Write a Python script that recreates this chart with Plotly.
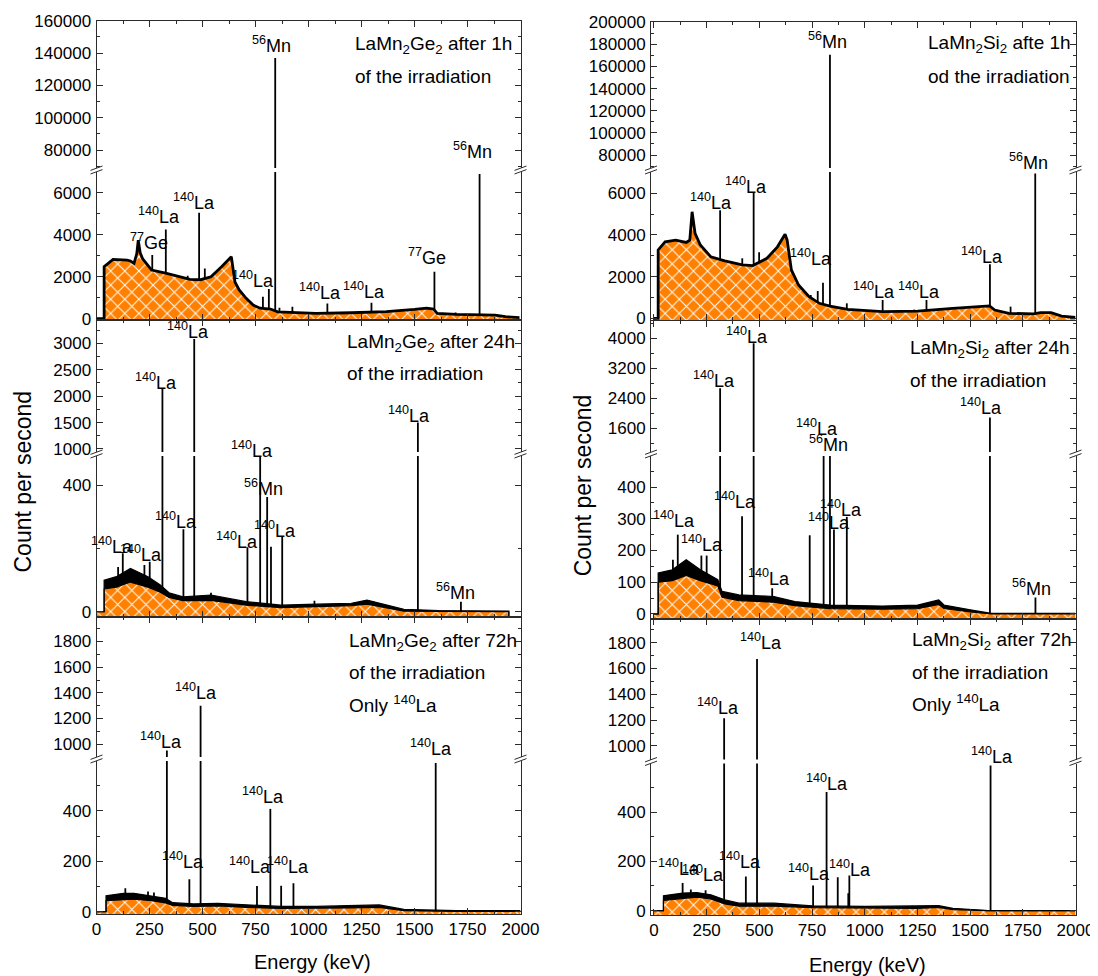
import plotly.graph_objects as go

# the page places the figure 8 px from the top-left corner of the window
OFF = 8
W, H = 1098 - OFF, 976 - OFF
FONT = "Liberation Sans, Arial, Helvetica, sans-serif"
ORANGE = "#ff8000"
AXC = "#2b2b2b"
FLOOR = -1.0e4

# ---------------- spectra (energy keV, counts per second) ----------------
# LaMn2Ge2, 1 h
GE1_E = [0, 36, 36, 78, 144, 160, 177, 190, 197, 206, 218, 260, 326, 375, 441, 491, 540, 590, 623, 636,
         653, 673, 706, 739, 772, 821, 855, 921, 1036, 1202, 1367, 1500, 1557, 1590, 1607, 1698, 1797, 1880, 1929, 1995]
GE1_CPS = [0, 0, 2480, 2830, 2800, 2750, 2640, 3100, 3750, 3150, 2850, 2320, 2170, 2040, 1880, 1860, 2000, 2480, 2800, 2960,
           1750, 1370, 970, 650, 500, 460, 330, 290, 255, 285, 335, 440, 500, 460, 255, 210, 175, 175, 95, 50]
GE1_PK_E = [263, 327, 430, 484, 511, 785, 813, 843, 863, 924, 1089, 1235, 1297, 1594, 1694, 1807]
GE1_PK_H = [3040, 4260, 2050, 5060, 2400, 1050, 1420, 137000, 520, 570, 730, 330, 760, 2240, 300, 6900]

# LaMn2Si2, 1 h
SI1_E = [0, 20, 20, 53, 103, 153, 170, 181, 195, 220, 270, 336, 419, 469, 536, 586, 622, 632, 652, 686,
         736, 785, 835, 919, 1085, 1251, 1418, 1551, 1592, 1617, 1684, 1800, 1834, 1884, 1934, 2000]
SI1_CPS = [0, 0, 3280, 3670, 3750, 3640, 3750, 5110, 4080, 3520, 2950, 2760, 2560, 2530, 2880, 3430, 4030, 3750, 2320, 1600,
           1040, 720, 590, 430, 320, 350, 480, 590, 600, 400, 240, 210, 270, 270, 110, 50]
SI1_PK_E = [314, 419, 473, 499, 744, 777, 802, 835, 915, 1085, 1235, 1293, 1594, 1692, 1809]
SI1_PK_H = [5190, 2880, 6020, 3170, 1120, 1310, 1710, 170500, 720, 880, 420, 880, 2590, 560, 6950]

# LaMn2Ge2, 24 h (upper / lower edge of the noisy band)
GE24_E = [0, 36, 36, 94, 160, 243, 301, 342, 408, 540, 706, 871, 1036, 1202, 1276, 1367, 1450, 1615, 1945, 1945]
GE24_HI = [0, 0, 100, 111, 137, 111, 85, 60, 47, 53, 32, 21, 24, 27, 37, 21, 8, 4, 2, -30]
GE24_LO = [0, 0, 72, 78, 94, 78, 62, 45, 35, 36, 21, 13, 16, 19, 24, 13, 2, 1, 0, -30]
GE24_PK_E = [102, 124, 226, 251, 311, 410, 461, 540, 712, 772, 805, 823, 876, 1028, 1516, 1719]
GE24_PK_H = [142, 185, 148, 158, 2150, 261, 3080, 60, 204, 495, 363, 206, 237, 35, 1500, 32]

# LaMn2Si2, 24 h
SI24_E = [0, 20, 20, 87, 153, 220, 303, 323, 403, 569, 669, 835, 1085, 1251, 1351, 1376, 1501, 1601, 2000]
SI24_HI = [0, 0, 129, 139, 171, 139, 108, 71, 60, 55, 39, 28, 25, 28, 44, 28, 13, 2, 2]
SI24_LO = [0, 0, 100, 105, 121, 105, 88, 53, 42, 37, 26, 17, 15, 17, 30, 17, 6, 0, 0]
SI24_PK_E = [90, 113, 225, 250, 314, 418, 473, 561, 739, 805, 835, 854, 915, 1594, 1810]
SI24_PK_H = [171, 250, 184, 184, 2670, 308, 3870, 81, 248, 600, 600, 266, 306, 1890, 52]

# LaMn2Ge2, 72 h
GE72_E = [0, 45, 45, 127, 177, 260, 326, 359, 458, 574, 706, 871, 1036, 1202, 1334, 1450, 1698, 2000]
GE72_HI = [0, 0, 63, 73, 73, 63, 53, 36, 31, 33, 27, 21, 21, 24, 27, 9, 4, 4]
GE72_LO = [0, 0, 44, 46, 50, 44, 35, 25, 21, 23, 17, 13, 13, 15, 17, 4, 1, 1]
GE72_PK_E = [136, 243, 271, 332, 438, 491, 757, 820, 871, 929, 1600]
GE72_PK_H = [93, 80, 76, 950, 129, 1300, 102, 408, 103, 113, 590]

# LaMn2Si2, 72 h
SI72_E = [0, 45, 45, 136, 203, 270, 336, 403, 569, 752, 1002, 1251, 1351, 1418, 1584, 2000]
SI72_HI = [0, 0, 60, 71, 73, 64, 44, 30, 30, 19, 17, 17, 20, 9, 0, 0]
SI72_LO = [0, 0, 41, 48, 55, 47, 27, 18, 18, 12, 9, 9, 13, 4, 0, 0]
SI72_PK_E = [136, 175, 245, 333, 436, 489, 755, 819, 872, 922, 927, 1597]
SI72_PK_H = [112, 86, 83, 1214, 139, 1674, 102, 482, 135, 70, 143, 590]

LA = "<sup>140</sup>La"
MN = "<sup>56</sup>Mn"
GE = "<sup>77</sup>Ge"

X_TITLE = "Energy (keV)"
Y_TITLE = "Count per second"

# ---------------- layout configuration (window pixels) ----------------
COLS = [dict(dom=(96.5, 520.5), rng=[0, 2000]),
        dict(dom=(651, 1075.5), rng=[-14, 2000])]

PANELS = [
    dict(col=0, E=GE1_E, hi=GE1_CPS, lo=None, pe=GE1_PK_E, ph=GE1_PK_H,
         up_px=(20.7, 168), lo_px=(172, 319.5), up_rng=[68900, 160000], lo_rng=[-38, 7000],
         up_tick=(20000, 10000), lo_tick=(2000, 1000), xlabels=False,
         title=[("LaMn<sub>2</sub>Ge<sub>2</sub> after 1h", 1210, 44.3), ("of the irradiation", 1210, 76)],
         labels=[(MN, 827, 46), (MN, 1775, 151.7), (LA, 293, 216.7), (LA, 460, 202.3), (GE, 246, 242.7),
                 (LA, 739, 280), (LA, 1053, 292.7), (LA, 1260, 291), (GE, 1559, 257.7)]),
    dict(col=1, E=SI1_E, hi=SI1_CPS, lo=None, pe=SI1_PK_E, ph=SI1_PK_H,
         up_px=(21.7, 168), lo_px=(172, 320), up_rng=[68300, 200400], lo_rng=[-80, 7020],
         up_tick=(20000, 10000), lo_tick=(2000, 1000), xlabels=False,
         title=[("LaMn<sub>2</sub>Si<sub>2</sub> afte 1h", 1290, 43.3), ("od the irradiation", 1290, 76)],
         labels=[(MN, 822, 41.7), (MN, 1777, 162.7), (LA, 271, 202.3), (LA, 438, 186), (LA, 744, 258.3),
                 (LA, 1042, 291), (LA, 1256, 291), (LA, 1557, 256.7)]),
    dict(col=0, E=GE24_E, hi=GE24_HI, lo=GE24_LO, pe=GE24_PK_E, ph=GE24_PK_H,
         up_px=(319.5, 452), lo_px=(456, 616.5), up_rng=[943, 3450], lo_rng=[-15, 493],
         up_tick=(500, 250), lo_tick=(400, 200), xlabels=False,
         title=[("LaMn<sub>2</sub>Ge<sub>2</sub> after 24h", 1174, 341.7), ("of the irradiation", 1174, 372.7)],
         labels=[(LA, 433, 331.7), (LA, 281, 382.7), (LA, 1476, 416), (LA, 732, 450), (MN, 788, 488.3),
                 (LA, 375, 521.7), (LA, 840, 530.7), (LA, 661, 541), (LA, 74, 546.7), (LA, 210, 554.3),
                 (MN, 1694, 592.7)]),
    dict(col=1, E=SI24_E, hi=SI24_HI, lo=SI24_LO, pe=SI24_PK_E, ph=SI24_PK_H,
         up_px=(320.5, 452), lo_px=(456, 619), up_rng=[968, 4475], lo_rng=[-16, 498],
         up_tick=(800, 400), lo_tick=(100, 50), xlabels=False,
         title=[("LaMn<sub>2</sub>Si<sub>2</sub> after 24h", 1205, 347.7), ("of the irradiation", 1205, 379.3)],
         labels=[(LA, 441, 336), (LA, 283, 381), (LA, 1553, 407.3), (LA, 774, 428.3), (MN, 827, 445),
                 (LA, 384, 501), (LA, 95, 520), (LA, 889, 509.3), (LA, 830, 522), (LA, 226, 544.3),
                 (LA, 547, 578.3), (MN, 1792, 588.3)]),
    dict(col=0, E=GE72_E, hi=GE72_HI, lo=GE72_LO, pe=GE72_PK_E, ph=GE72_PK_H,
         up_px=(616.5, 757), lo_px=(761, 914), up_rng=[900, 1995], lo_rng=[-9, 598],
         up_tick=(200, 100), lo_tick=(200, 100), xlabels=True,
         title=[("LaMn<sub>2</sub>Ge<sub>2</sub> after 72h", 1180, 640.7), ("of the irradiation", 1180, 671.7),
                ("Only " + LA, 1180, 703.3)],
         labels=[(LA, 471, 692.7), (LA, 302, 741), (LA, 1580, 748.3), (LA, 785, 796), (LA, 410, 861),
                 (LA, 726, 866.7), (LA, 904, 866.7)]),
    dict(col=1, E=SI72_E, hi=SI72_HI, lo=SI72_LO, pe=SI72_PK_E, ph=SI72_PK_H,
         up_px=(619, 759.5), lo_px=(763.5, 915), up_rng=[895, 1984], lo_rng=[-18, 598],
         up_tick=(200, 100), lo_tick=(200, 100), xlabels=True,
         title=[("LaMn<sub>2</sub>Si<sub>2</sub> after 72h", 1215, 640), ("of the irradiation", 1215, 671.7),
                ("Only " + LA, 1215, 701.7)],
         labels=[(LA, 508, 642.7), (LA, 306, 707.3), (LA, 1604, 756), (LA, 822, 783.3), (LA, 406, 861.7),
                 (LA, 118, 868.3), (LA, 231, 874), (LA, 734, 873.3), (LA, 929, 869.3)]),
]


def px2x(px):
    return (px - OFF) / W


def py2y(py):
    return 1 - (py - OFF) / H


def ax_name(kind, i):
    return f"{kind}axis" if i == 1 else f"{kind}axis{i}"


def ref(kind, i):
    return kind if i == 1 else f"{kind}{i}"


PATTERN = dict(shape="x", size=10, solidity=0.18, fgcolor="white", bgcolor=ORANGE, fillmode="replace")

fig = go.Figure()
layout = dict(width=W, height=H, autosize=False,
              margin=dict(l=0, r=0, t=0, b=0, pad=0, autoexpand=False), paper_bgcolor="white",
              plot_bgcolor="white", showlegend=False, font=dict(family=FONT, color="black"))
annotations, shapes = [], []

common = dict(showline=True, linecolor=AXC, linewidth=1, ticks="inside", tickcolor=AXC, tickwidth=1,
              ticklen=6, showgrid=False, zeroline=False, automargin=False, tickformat="d",
              tickfont=dict(family=FONT, size=17, color="black"))


def minor(dt):
    return dict(dtick=dt, tick0=0, ticklen=3, ticks="inside", tickcolor=AXC, tickwidth=1, showgrid=False)


for p, pn in enumerate(PANELS):
    col = COLS[pn["col"]]
    il, iu = 2 * p + 1, 2 * p + 2
    xd = [px2x(col["dom"][0]), px2x(col["dom"][1])]

    pk_x, pk_y = [], []
    for e, h in zip(pn["pe"], pn["ph"]):
        pk_x += [e, e, None]
        pk_y += [0, h, None]
    for i in (il, iu):
        fig.add_trace(go.Scatter(x=pk_x, y=pk_y, mode="lines", line=dict(color="black", width=1.8),
                                 xaxis=ref("x", i), yaxis=ref("y", i), hoverinfo="skip"))
    xr, yr = ref("x", il), ref("y", il)
    fig.add_trace(go.Scatter(x=[pn["E"][0], pn["E"][-1]], y=[FLOOR, FLOOR], mode="lines",
                             line=dict(width=0, color="rgba(0,0,0,0)"), xaxis=xr, yaxis=yr, hoverinfo="skip"))
    if pn["lo"] is None:
        fig.add_trace(go.Scatter(x=pn["E"], y=pn["hi"], mode="lines", line=dict(color="black", width=2.8),
                                 fill="tonexty", fillcolor=ORANGE, fillpattern=PATTERN,
                                 xaxis=xr, yaxis=yr, hoverinfo="skip"))
    else:
        fig.add_trace(go.Scatter(x=pn["E"], y=pn["lo"], mode="lines", line=dict(color="black", width=1.2),
                                 fill="tonexty", fillcolor=ORANGE, fillpattern=PATTERN,
                                 xaxis=xr, yaxis=yr, hoverinfo="skip"))
        fig.add_trace(go.Scatter(x=pn["E"], y=pn["hi"], mode="lines", line=dict(color="black", width=1.2),
                                 fill="tonexty", fillcolor="black",
                                 xaxis=xr, yaxis=yr, hoverinfo="skip"))

    layout[ax_name("x", il)] = dict(common, domain=xd, range=col["rng"], anchor=ref("y", il), tick0=0,
                                    dtick=250, minor=minor(125), showticklabels=pn["xlabels"], side="bottom")
    layout[ax_name("x", iu)] = dict(common, domain=xd, range=col["rng"], anchor=ref("y", iu), tick0=0,
                                    dtick=250, minor=minor(125), showticklabels=False, side="top")
    layout[ax_name("y", il)] = dict(common, domain=[py2y(pn["lo_px"][1]), py2y(pn["lo_px"][0])],
                                    range=pn["lo_rng"], anchor=ref("x", il), tick0=0, dtick=pn["lo_tick"][0],
                                    minor=minor(pn["lo_tick"][1]), mirror="allticks", ticklabelstandoff=1)
    layout[ax_name("y", iu)] = dict(common, domain=[py2y(pn["up_px"][1]), py2y(pn["up_px"][0])],
                                    range=pn["up_rng"], anchor=ref("x", iu), tick0=0, dtick=pn["up_tick"][0],
                                    minor=minor(pn["up_tick"][1]), mirror="allticks", ticklabelstandoff=1)

    for t, e, ypx in pn["labels"]:
        annotations.append(dict(text=t, x=e, xref=xr, y=py2y(ypx - 1), yref="paper", showarrow=False,
                                xanchor="center", yanchor="middle",
                                font=dict(family=FONT, size=18, color="black")))
    for t, e, ypx in pn["title"]:
        annotations.append(dict(text=t, x=e, xref=xr, y=py2y(ypx + 1), yref="paper", showarrow=False,
                                xanchor="left", yanchor="middle",
                                font=dict(family=FONT, size=19, color="black")))

    yc = (pn["up_px"][1] + pn["lo_px"][0]) / 2
    for xpx in col["dom"]:
        for k in (-1.8, 1.8):
            shapes.append(dict(type="line", xref="paper", yref="paper",
                               x0=px2x(xpx - 6), y0=py2y(yc + k + 2.2), x1=px2x(xpx + 6), y1=py2y(yc + k - 2.2),
                               line=dict(color=AXC, width=1)))

for xc, yc in ((22.8, 481.7), (583.3, 485)):
    annotations.append(dict(text=Y_TITLE, x=px2x(xc), y=py2y(yc), xref="paper", yref="paper", showarrow=False,
                            textangle=-90, xanchor="center", yanchor="middle",
                            font=dict(family=FONT, size=23, color="black")))
for xc, yc in ((312, 961.7), (867, 965)):
    annotations.append(dict(text=X_TITLE, x=px2x(xc), y=py2y(yc), xref="paper", yref="paper", showarrow=False,
                            xanchor="center", yanchor="middle",
                            font=dict(family=FONT, size=20, color="black")))

layout["annotations"] = annotations
layout["shapes"] = shapes
fig.update_layout(**layout)
fig.write_html("out.html")
